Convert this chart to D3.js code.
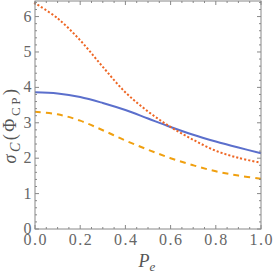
<!DOCTYPE html>
<html>
<head>
<meta charset="utf-8">
<script src="https://cdn.jsdelivr.net/npm/d3@7"></script>
<style>
  body { margin: 0; background: #fff; }
  .tick-label { font-family: "Liberation Serif", "DejaVu Serif", serif; font-size: 16px; fill: #666; letter-spacing: 1.5px; }
</style>
</head>
<body>
<div class="container"></div>
<script>
// data
var pe = [0.0, 0.1, 0.2, 0.3, 0.4, 0.5, 0.6, 0.7, 0.8, 0.9, 1.0];
var blueVals = [3.86, 3.83, 3.73, 3.56, 3.36, 3.12, 2.88, 2.66, 2.47, 2.30, 2.14];
var orangeVals = [3.31, 3.24, 3.06, 2.79, 2.50, 2.24, 2.00, 1.80, 1.63, 1.51, 1.42];
var redVals = [6.38, 5.95, 5.33, 4.58, 3.86, 3.32, 2.88, 2.52, 2.21, 2.01, 1.87];
var xTicks = [0, 0.2, 0.4, 0.6, 0.8, 1.0];
var yTicks = [0, 1, 2, 3, 4, 5, 6];

var W = 274, H = 274;
var plotL = 35, plotR = 261, plotT = 1, plotB = 229;

var x = d3.scaleLinear().domain([0, 1]).range([plotL, plotR]);
var y = d3.scaleLinear().domain([0, 6.44]).range([plotB, plotT]);

var svg = d3.select(".container").append("svg")
    .attr("width", W).attr("height", H)
    .attr("xmlns", "http://www.w3.org/2000/svg");

// series lines
var series = [
  { vals: blueVals, color: "#5b6fcc", dash: null, cap: "butt" },
  { vals: orangeVals, color: "#f0a010", dash: "6,5", cap: "butt" },
  { vals: redVals, color: "#ee6624", dash: "0.1,4", cap: "square" }
];
var line = d3.line()
    .x(function(d, i) { return x(pe[i]); })
    .y(function(d) { return y(d); })
    .curve(d3.curveCatmullRom.alpha(0.5));

series.forEach(function(s) {
  svg.append("path").datum(s.vals)
      .attr("fill", "none")
      .attr("stroke", s.color)
      .attr("stroke-width", 2)
      .attr("stroke-linecap", s.cap)
      .attr("stroke-dasharray", s.dash)
      .attr("d", line);
});

// frame
svg.append("rect")
    .attr("x", plotL).attr("y", plotT)
    .attr("width", plotR - plotL).attr("height", plotB - plotT)
    .attr("fill", "none").attr("stroke", "#888").attr("stroke-width", 1);

var tickColor = "#888";
// x ticks (major + minor) on bottom and top
d3.range(0, 1.0001, 0.05).forEach(function(v) {
  var major = Math.abs(v * 5 - Math.round(v * 5)) < 1e-6;
  var len = major ? 4 : 2;
  svg.append("line").attr("x1", x(v)).attr("x2", x(v))
      .attr("y1", plotB).attr("y2", plotB - len).attr("stroke", tickColor);
  svg.append("line").attr("x1", x(v)).attr("x2", x(v))
      .attr("y1", plotT).attr("y2", plotT + len).attr("stroke", tickColor);
});
// y ticks (major + minor) on left and right
d3.range(0, 6.41, 0.2).forEach(function(v) {
  var major = Math.abs(v - Math.round(v)) < 1e-6;
  var len = major ? 4 : 2;
  svg.append("line").attr("y1", y(v)).attr("y2", y(v))
      .attr("x1", plotL).attr("x2", plotL + len).attr("stroke", tickColor);
  svg.append("line").attr("y1", y(v)).attr("y2", y(v))
      .attr("x1", plotR).attr("x2", plotR - len).attr("stroke", tickColor);
});

// tick labels
svg.selectAll(".xl").data(xTicks).enter().append("text")
    .attr("class", "tick-label")
    .attr("x", function(d) { return x(d) + 0.75; })
    .attr("y", 245)
    .attr("text-anchor", "middle")
    .text(function(d) { return d.toFixed(1); });

svg.selectAll(".yl").data(yTicks).enter().append("text")
    .attr("class", "tick-label")
    .attr("x", 33)
    .attr("y", function(d) { return y(d) + 5; })
    .attr("text-anchor", "end")
    .text(function(d) { return d; });

// axis titles
var xt = svg.append("text")
    .attr("x", 147).attr("y", 267)
    .attr("text-anchor", "middle")
    .style("font-family", "Liberation Serif, serif")
    .style("font-size", "18px").style("fill", "#555");
xt.append("tspan").style("font-style", "italic").text("P");
xt.append("tspan").style("font-style", "italic").style("font-size", "13px").attr("dy", 4).text("e");

var yt = svg.append("text")
    .attr("transform", "translate(16," + 125 + ") rotate(-90)")
    .attr("text-anchor", "middle")
    .style("font-family", "Liberation Serif, serif")
    .style("font-size", "18px").style("fill", "#555")
    .style("letter-spacing", "2.5px");
yt.append("tspan").style("font-style", "italic").text("σ");
yt.append("tspan").style("font-style", "italic").style("font-size", "14px").attr("dy", 4).text("C");
yt.append("tspan").attr("dy", -4).text("(Φ");
yt.append("tspan").style("font-size", "13px").attr("dy", 4).text("CP");
yt.append("tspan").attr("dy", -4).text(")");
</script>
</body>
</html>
